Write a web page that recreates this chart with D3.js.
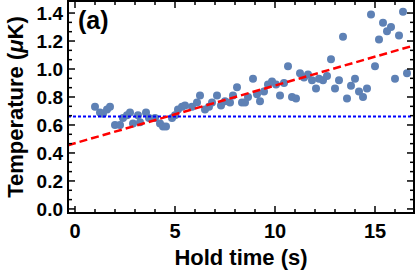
<!DOCTYPE html>
<html>
<head>
<meta charset="utf-8">
<script src="https://cdn.jsdelivr.net/npm/d3@7"></script>
<style>
  body { margin: 0; background: #fff; }
  text { font-family: "Liberation Sans", Arial, sans-serif; font-weight: bold; fill: #000; }
</style>
</head>
<body>
<div id="chart"></div>
<script>
const holdTime = [1.0, 1.25, 1.4, 1.6, 1.75, 2.0, 2.25, 2.4, 2.6, 2.75, 2.9, 3.15, 3.25, 3.55, 3.7,
  4.0, 4.25, 4.4, 4.55, 4.85, 5.0, 5.15, 5.35, 5.5, 5.85, 6.1, 6.25, 6.5, 6.7, 6.85, 7.1, 7.3, 7.5,
  7.75, 7.9, 8.1, 8.35, 8.5, 8.65, 8.9, 9.1, 9.25, 9.45, 9.65, 9.85, 10.05, 10.25, 10.45, 10.65,
  10.85, 11.05, 11.25, 11.45, 11.65, 11.85, 12.05, 12.2, 12.4, 12.6, 12.8, 13.0, 13.2, 13.4, 13.6,
  13.8, 14.0, 14.2, 14.4, 14.6, 14.8, 15.0, 15.2, 15.4, 15.6, 15.8, 16.0, 16.2, 16.4, 16.6];
const temperature = [0.73, 0.69, 0.68, 0.71, 0.73, 0.60, 0.60, 0.65, 0.67, 0.69, 0.61, 0.67, 0.62, 0.69, 0.65,
  0.65, 0.61, 0.59, 0.59, 0.65, 0.67, 0.71, 0.73, 0.74, 0.73, 0.76, 0.81, 0.71, 0.73, 0.76, 0.81, 0.74, 0.77,
  0.76, 0.81, 0.87, 0.76, 0.76, 0.80, 0.93, 0.82, 0.77, 0.84, 0.89, 0.91, 0.89, 0.81, 0.90, 1.02,
  0.80, 0.79, 0.97, 0.94, 0.96, 0.92, 0.86, 0.93, 0.92, 0.95, 1.07, 0.86, 0.92, 1.23, 0.79,
  0.88, 0.93, 0.84, 0.80, 0.86, 1.39, 1.02, 1.21, 1.33, 1.27, 1.30, 0.93, 1.24, 1.41, 0.97];

// linear fit (red dashed) and reference level (blue dotted)
const fitLine = [0.47, 0.0412];   // intercept, slope
const refLevel = [0.66];

const xTicks = [0, 5, 10, 15];
const yTicks = [0.0, 0.2, 0.4, 0.6, 0.8, 1.0, 1.2, 1.4];

const margin = { top: 1, right: 1, bottom: 65, left: 68 },
      width = 415 - margin.left - margin.right,
      height = 278 - margin.top - margin.bottom;

const svg = d3.select("#chart")
  .append("svg")
    .attr("width", 415)
    .attr("height", 278)
  .append("g")
    .attr("transform", "translate(" + margin.left + "," + margin.top + ")");

const x = d3.scaleLinear().domain([-0.35, 16.95]).range([0, width]);
const y = d3.scaleLinear().domain([-0.029, 1.486]).range([height, 0]);

svg.append("clipPath").attr("id", "clip")
  .append("rect").attr("width", width).attr("height", height);

// points
svg.append("g").attr("clip-path", "url(#clip)")
  .selectAll("circle")
  .data(holdTime.map((t, i) => [t, temperature[i]]))
  .enter()
  .append("circle")
    .attr("cx", d => x(d[0]))
    .attr("cy", d => y(d[1]))
    .attr("r", 4)
    .attr("fill", "#5E81B5");

// reference level
svg.append("line")
  .attr("x1", 0).attr("x2", width)
  .attr("y1", y(refLevel[0])).attr("y2", y(refLevel[0]))
  .attr("stroke", "#0000ff")
  .attr("stroke-width", 2)
  .attr("stroke-dasharray", "3,2");

// fit line
const xd = x.domain();
svg.append("line")
  .attr("clip-path", "url(#clip)")
  .attr("x1", x(xd[0])).attr("y1", y(fitLine[0] + fitLine[1] * xd[0]))
  .attr("x2", x(xd[1])).attr("y2", y(fitLine[0] + fitLine[1] * xd[1]))
  .attr("stroke", "#ff0000")
  .attr("stroke-width", 2.5)
  .attr("stroke-dasharray", "8,4");

// ticks on all four sides, pointing inward
const xMinor = d3.range(0, 17, 1).filter(v => !xTicks.includes(v));
const yMinor = d3.range(0, 22).map(i => i * 0.2 / 3).filter((v, i) => i % 3 !== 0 && v < 1.48);

function tickLines(vals, len, horiz) {
  const g = svg.append("g").attr("stroke", "#000").attr("stroke-width", 1.5);
  vals.forEach(v => {
    if (horiz) {
      g.append("line").attr("x1", x(v)).attr("x2", x(v)).attr("y1", height).attr("y2", height - len);
      g.append("line").attr("x1", x(v)).attr("x2", x(v)).attr("y1", 0).attr("y2", len);
    } else {
      g.append("line").attr("y1", y(v)).attr("y2", y(v)).attr("x1", 0).attr("x2", len);
      g.append("line").attr("y1", y(v)).attr("y2", y(v)).attr("x1", width).attr("x2", width - len);
    }
  });
}
tickLines(xTicks, 7, true);
tickLines(xMinor, 4, true);
tickLines(yTicks, 7, false);
tickLines(yMinor, 4, false);

// frame
svg.append("rect")
  .attr("width", width).attr("height", height)
  .attr("fill", "none").attr("stroke", "#000").attr("stroke-width", 2);

// tick labels
svg.append("g").selectAll("text")
  .data(xTicks).enter().append("text")
    .attr("x", d => x(d))
    .attr("y", height + 25)
    .attr("text-anchor", "middle")
    .style("font-size", "20px")
    .text(d => d);

svg.append("g").selectAll("text")
  .data(yTicks).enter().append("text")
    .attr("x", -5)
    .attr("y", d => y(d) + 7)
    .attr("text-anchor", "end")
    .style("font-size", "19px")
    .text(d => d.toFixed(1));

// axis titles
svg.append("text")
  .attr("x", width / 2)
  .attr("y", height + 52)
  .attr("text-anchor", "middle")
  .style("font-size", "22px")
  .text("Hold time (s)");

const yt = svg.append("text")
  .attr("transform", "translate(" + (-margin.left + 23) + "," + (height / 2) + ") rotate(-90)")
  .attr("text-anchor", "middle")
  .style("font-size", "22px");
yt.append("tspan").text("Temperature (");
yt.append("tspan").style("font-style", "italic").text("\u03bc");
yt.append("tspan").text("K)");

// panel label
svg.append("text")
  .attr("x", 10)
  .attr("y", 28)
  .style("font-size", "25px")
  .text("(a)");
</script>
</body>
</html>
